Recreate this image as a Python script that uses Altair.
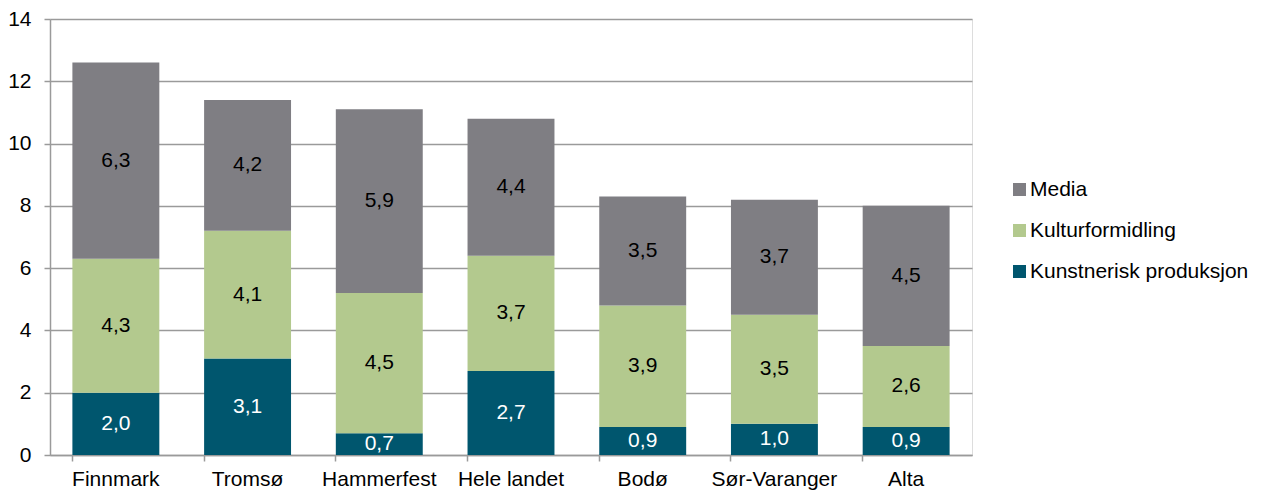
import altair as alt
import pandas as pd

categories = ["Finnmark", "Tromsø", "Hammerfest", "Hele landet", "Bodø", "Sør-Varanger", "Alta"]
series_names = ["Kunstnerisk produksjon", "Kulturformidling", "Media"]
kunstnerisk = [2.0, 3.1, 0.7, 2.7, 0.9, 1.0, 0.9]
kulturformidling = [4.3, 4.1, 4.5, 3.7, 3.9, 3.5, 2.6]
media = [6.3, 4.2, 5.9, 4.4, 3.5, 3.7, 4.5]
y_ticks = [0, 2, 4, 6, 8, 10, 12, 14]

legend_order = ["Media", "Kulturformidling", "Kunstnerisk produksjon"]
colors = ["#7f7e83", "#b3c98e", "#00566e"]

rows = []
for s_idx, (name, vals) in enumerate(zip(series_names, [kunstnerisk, kulturformidling, media])):
    for cat, v in zip(categories, vals):
        rows.append({"category": cat, "series": name, "value": v, "stackorder": s_idx})
df = pd.DataFrame(rows)

FONT = "Liberation Sans"
FS = 21

base = alt.Chart(df).transform_stack(
    stack="value",
    groupby=["category"],
    as_=["y0", "y1"],
    sort=[alt.SortField("stackorder", order="ascending")],
).transform_calculate(
    mid="(datum.y0 + datum.y1) / 2",
    label="replace(format(datum.value, '.1f'), '.', ',')",
)

x_enc = alt.X(
    "category:N",
    sort=categories,
    title=None,
    scale=alt.Scale(paddingInner=0.34, paddingOuter=0.17),
    axis=alt.Axis(
        labelAngle=0,
        labelFontSize=FS,
        labelFont=FONT,
        labelColor="black",
        labelPadding=7,
        tickSize=6,
        tickColor="#9a9a9a",
        tickWidth=1.5,
        bandPosition=0,
        domainColor="#9a9a9a",
        domainWidth=1.5,
        grid=False,
    ),
)

bars = base.mark_bar().encode(
    x=x_enc,
    y=alt.Y(
        "y0:Q",
        title=None,
        scale=alt.Scale(domain=[0, 14], nice=False),
        axis=alt.Axis(
            values=y_ticks,
            labelFontSize=FS,
            labelFont=FONT,
            labelColor="black",
            labelPadding=13,
            tickSize=6,
            tickColor="#9a9a9a",
            tickWidth=1.5,
            domainColor="#9a9a9a",
            domainWidth=1.5,
            grid=True,
            gridColor="#9a9a9a",
            gridWidth=1.5,
        ),
    ),
    y2="y1:Q",
    color=alt.Color(
        "series:N",
        scale=alt.Scale(domain=legend_order, range=colors),
        legend=alt.Legend(
            title=None,
            orient="none",
            legendX=959,
            legendY=160,
            symbolType="square",
            symbolSize=169,
            symbolStrokeWidth=0,
            labelFontSize=FS,
            labelFont=FONT,
            labelColor="black",
            labelLimit=400,
            rowPadding=19,
            labelOffset=0,
            padding=0,
        ),
    ),
)

texts = base.mark_text(fontSize=FS, font=FONT, baseline="middle", align="center").encode(
    x=alt.X("category:N", sort=categories),
    y=alt.Y("mid:Q"),
    text="label:N",
    color=alt.condition(
        "datum.series == 'Kunstnerisk produksjon'", alt.value("white"), alt.value("black")
    ),
)

chart = alt.layer(bars, texts).properties(
    width=922,
    height=436,
    autosize=alt.AutoSizeParams(type="none"),
    padding={"left": 42, "top": 11, "right": 282, "bottom": 37},
).configure_view(stroke=None).configure(background="white")

chart.save("out.html", embed_options={"renderer": "svg", "actions": False})
